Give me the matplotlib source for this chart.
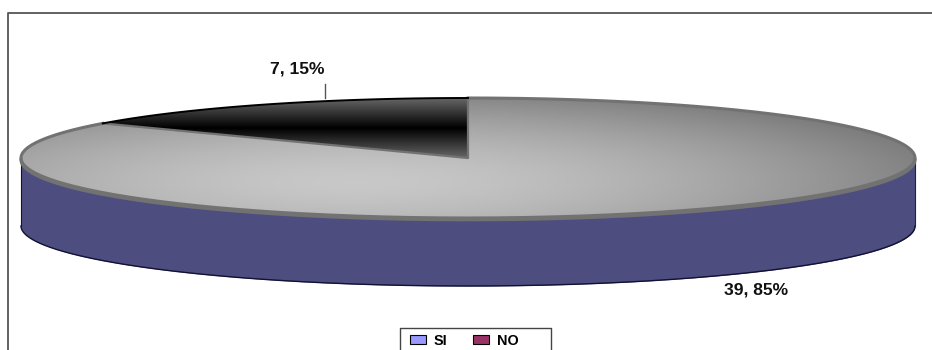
import numpy as np
import matplotlib
matplotlib.use('Agg')
import matplotlib.pyplot as plt
from matplotlib.colors import LinearSegmentedColormap
from matplotlib.patches import Patch

labels = ['SI', 'NO']
counts = [39, 7]
percents = [85, 15]
legend_colors = ['#9999ff', '#993366']
wall_color = '#4d4d80'
rim_color = '#727272'

# pie geometry in pixels
W, H = 932, 350
cx, cy = 468, 158
rx, ry = 447, 60
depth = 68 / ry

plt.rcParams['font.family'] = ['Liberation Sans', 'DejaVu Sans']
plt.rcParams['font.weight'] = 'bold'

fig = plt.figure(figsize=(W / 100, H / 100), dpi=100)
ax = fig.add_axes([0, 0, 1, 1])

wedges, _ = ax.pie(counts, startangle=90, counterclock=False, radius=1,
                   colors=['none', 'none'], wedgeprops={'linewidth': 0})
ax.set_aspect('auto')
xlim = (-cx / rx, (W - cx) / rx)
ylim = ((cy - H) / ry, cy / ry)
ax.axis('off')

# side wall
t = np.linspace(np.pi, 2 * np.pi, 400)
ax.fill_between(np.cos(t), np.sin(t), np.sin(t) - depth, color=wall_color, lw=0, zorder=0.5)
ax.plot(np.cos(t), np.sin(t) - depth, color='#111133', lw=1.0, zorder=0.6)
ax.plot([-1, -1], [0, -depth], color='#111133', lw=0.8, zorder=0.6)
ax.plot([1, 1], [0, -depth], color='#222244', lw=0.8, zorder=0.6)

# shading of the light slice
gx, gy = np.meshgrid(np.linspace(-1, 1, 500), np.linspace(1, -1, 200))
dist = np.hypot((gx + 0.25) / 1.35, (gy + 0.4) / 1.6)
light = np.clip(1 - dist ** 1.6, 0, 1)
gray_map = LinearSegmentedColormap.from_list('g', ['#7c7c7c', '#c8c8c8'])
im = ax.imshow(light, extent=(-1, 1, -1, 1), cmap=gray_map, vmin=0, vmax=1, aspect='auto', zorder=1.2)
im.set_clip_path(wedges[0])

# shading of the dark slice
band = np.linspace(0, 1, 200)[:, None]
dark_map = LinearSegmentedColormap.from_list('d', ['#666666', '#000000', '#666666'])
im2 = ax.imshow(band, extent=(-1, 0, 0, 1), cmap=dark_map, aspect='auto', zorder=1.2)
im2.set_clip_path(wedges[1])

# slice outlines
split = np.pi / 2 + 2 * np.pi * counts[1] / sum(counts)
dark_arc = np.linspace(np.pi / 2, split, 100)
light_arc = np.linspace(split, 2.5 * np.pi, 500)
ax.plot(np.cos(light_arc), np.sin(light_arc), color=rim_color, lw=2.2, zorder=1.4)
ax.plot(np.cos(dark_arc), np.sin(dark_arc), color='#000000', lw=1.4, zorder=1.4)
ax.plot([0, 0, np.cos(split)], [1, 0, np.sin(split)], color=rim_color, lw=1.6, zorder=1.35)
ax.plot(np.cos(t), np.sin(t) - 0.03, color=rim_color, lw=2.2, zorder=1.4)
ax.set_xlim(xlim)
ax.set_ylim(ylim)

# overlay in pixel coordinates: frame, labels, legend
over = fig.add_axes([0, 0, 1, 1])
over.set_xlim(0, W)
over.set_ylim(H, 0)
over.axis('off')
over.patch.set_alpha(0)

over.plot([8, 8, W], [H, 13, 13], color='#555555', lw=1.3)
over.plot([325, 325], [84, 98], color='#555555', lw=1.0)
over.text(297, 69, f'{counts[1]}, {percents[1]}%', fontsize=12.6, ha='center', va='center', color='#111111')
over.text(756, 290, f'{counts[0]}, {percents[0]}%', fontsize=12.6, ha='center', va='center', color='#111111')

over.plot([400, 400, 551, 551], [H, 328, 328, H], color='#444444', lw=1.0)
handles = [Patch(facecolor=c, edgecolor='black', linewidth=0.8) for c in legend_colors]
over.legend(handles, labels, ncol=2, loc='upper left',
            bbox_to_anchor=(410 / W, 1 - 334 / H), bbox_transform=fig.transFigure,
            fontsize=10.4, frameon=False,
            handlelength=1.1, handleheight=0.6, handletextpad=0.55, columnspacing=1.8,
            borderpad=0, borderaxespad=0)

fig.savefig('out.png', dpi=100, facecolor='white')
